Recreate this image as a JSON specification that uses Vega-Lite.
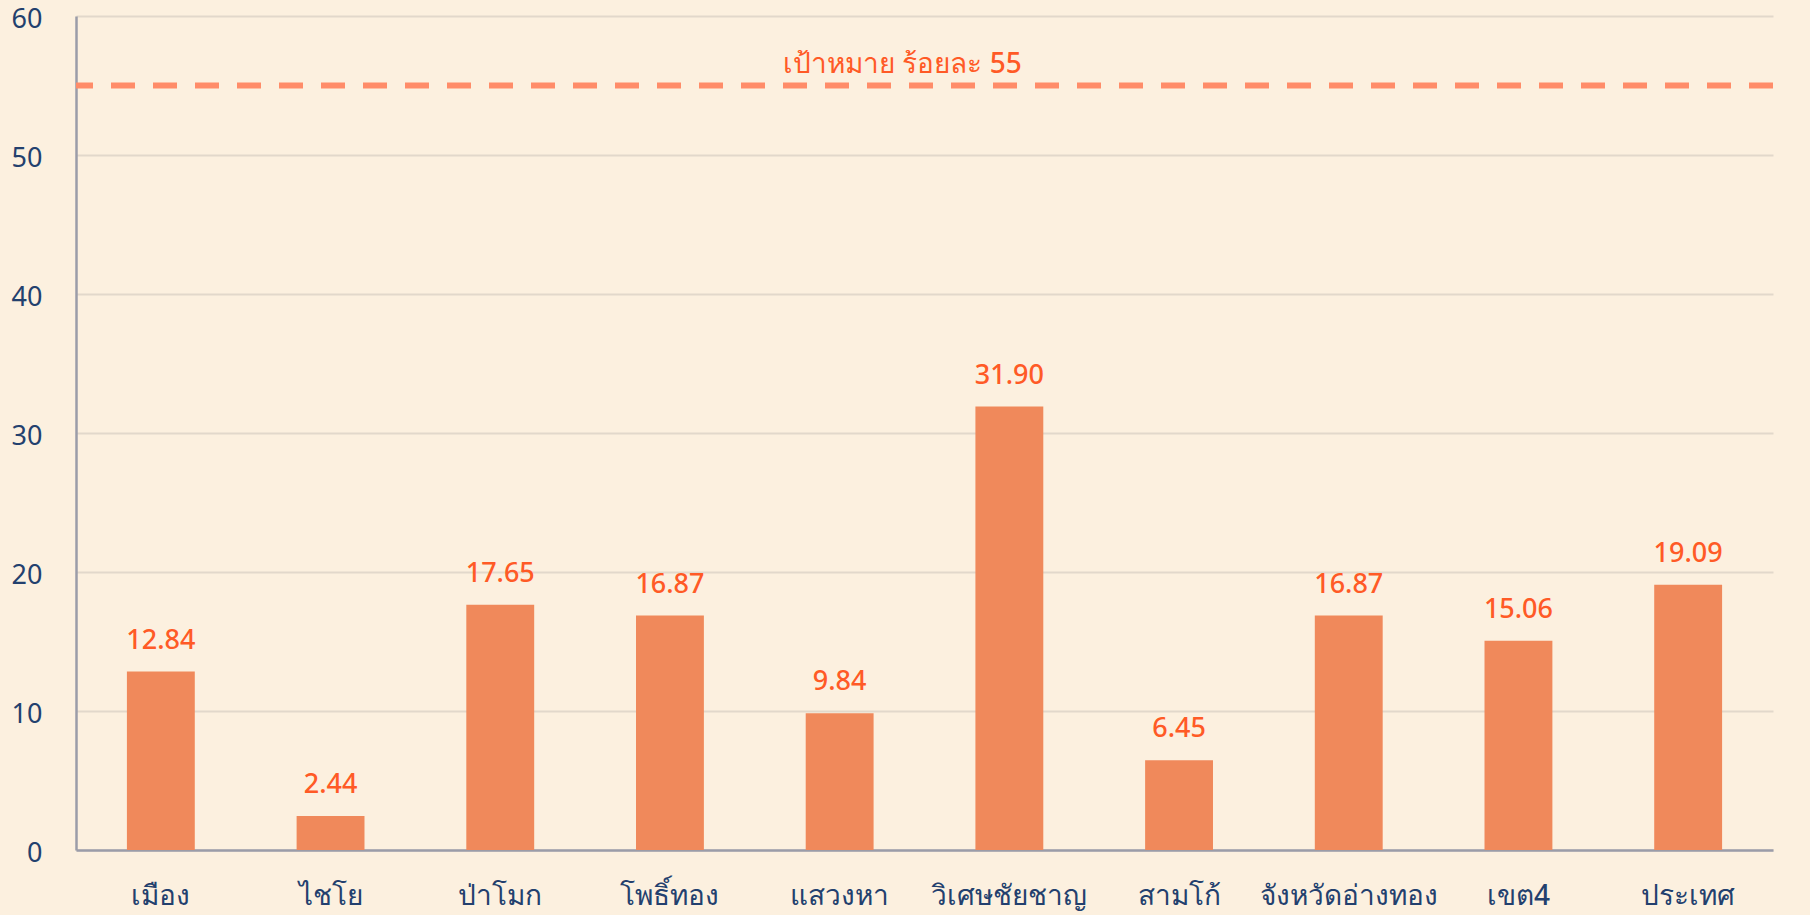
{
  "$schema": "https://vega.github.io/schema/vega-lite/v6.json",
  "width": 1697,
  "height": 834,
  "autosize": {"type": "none"},
  "padding": {"left": 76, "top": 16, "right": 37, "bottom": 65},
  "background": "#FCF0DF",
  "config": {
    "view": {"stroke": null},
    "font": "Noto Sans"
  },
  "datasets": {
    "bars": [
      {"area": "เมือง", "value": 12.84},
      {"area": "ไชโย", "value": 2.44},
      {"area": "ป่าโมก", "value": 17.65},
      {"area": "โพธิ์ทอง", "value": 16.87},
      {"area": "แสวงหา", "value": 9.84},
      {"area": "วิเศษชัยชาญ", "value": 31.90},
      {"area": "สามโก้", "value": 6.45},
      {"area": "จังหวัดอ่างทอง", "value": 16.87},
      {"area": "เขต4", "value": 15.06},
      {"area": "ประเทศ", "value": 19.09}
    ],
    "target": [
      {"target": 55, "label": "เป้าหมาย ร้อยละ 55"}
    ]
  },
  "layer": [
    {
      "data": {"name": "bars"},
      "mark": {"type": "bar", "color": "#F0895B"},
      "encoding": {
        "x": {
          "field": "area", "type": "nominal", "sort": null,
          "scale": {"paddingInner": 0.6, "paddingOuter": 0.3},
          "axis": {
            "title": null, "labelAngle": 0, "labelFontSize": 28, "labelFontWeight": 500,
            "labelColor": "#23406E", "labelPadding": 32, "labelLimit": 400, "ticks": false,
            "domainColor": "#9B9CA8", "domainWidth": 2.5, "grid": false
          }
        },
        "y": {
          "field": "value", "type": "quantitative",
          "scale": {"domain": [0, 60], "nice": false},
          "axis": {
            "title": null, "values": [0, 10, 20, 30, 40, 50, 60], "labelFontSize": 27,
            "labelColor": "#23406E", "labelPadding": 34, "labelOffset": 3, "ticks": false,
            "domainColor": "#9B9CA8", "domainWidth": 2.5,
            "gridColor": "#E2D8CB", "gridWidth": 2
          }
        }
      }
    },
    {
      "data": {"name": "bars"},
      "mark": {"type": "text", "color": "#FF5A26", "fontSize": 27, "fontWeight": 500, "baseline": "alphabetic", "dy": -23},
      "encoding": {
        "x": {"field": "area", "type": "nominal", "sort": null},
        "y": {"field": "value", "type": "quantitative"},
        "text": {"field": "value", "type": "quantitative", "format": ".2f"}
      }
    },
    {
      "data": {"name": "target"},
      "mark": {"type": "rule", "color": "#FF8C69", "strokeWidth": 6, "strokeDash": [24, 18]},
      "encoding": {
        "y": {"field": "target", "type": "quantitative"}
      }
    },
    {
      "data": {"name": "target"},
      "mark": {"type": "text", "color": "#FF5A26", "fontSize": 28, "fontWeight": 500, "baseline": "alphabetic", "dy": -13, "dx": -22},
      "encoding": {
        "y": {"field": "target", "type": "quantitative"},
        "text": {"field": "label"}
      }
    }
  ]
}
